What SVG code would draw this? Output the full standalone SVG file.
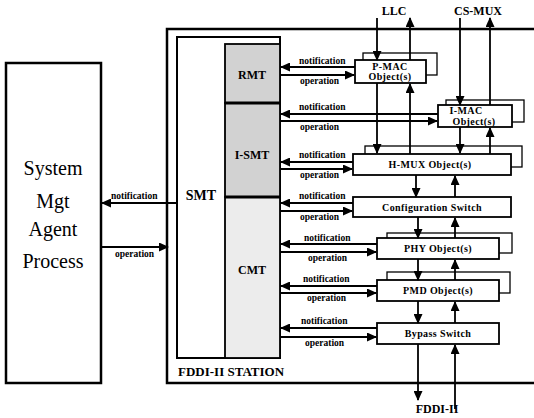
<svg xmlns="http://www.w3.org/2000/svg" width="534" height="418" viewBox="0 0 534 418">
<defs>
<marker id="ah" markerUnits="userSpaceOnUse" markerWidth="10" markerHeight="9" refX="9" refY="4.5" orient="auto">
<path d="M0,0 L10,4.5 L0,9 Z" fill="#000"/>
</marker>
<style>
.box{fill:#fff;stroke:#000;stroke-width:1.8}
.sh{fill:#fff;stroke:#000;stroke-width:1.3}
.ar{stroke:#000;stroke-width:1.8;fill:none;marker-end:url(#ah)}
text{font-family:'Liberation Serif','Times New Roman','DejaVu Serif',serif;fill:#000}
.lab{font-size:9.5px;font-weight:bold}
.nt{font-size:10px;font-weight:bold;text-anchor:middle;letter-spacing:0.4px}
</style>
</defs>
<rect width="534" height="418" fill="#fff"/>

<g id="station">
<path d="M534,29 H167 V383 H534" fill="none" stroke="#000" stroke-width="2.5"/>
<text x="178" y="376" font-size="13" font-weight="bold" font-family="'Liberation Serif', serif">FDDI-II STATION</text>
</g>

<g id="agent">
<rect x="6" y="63" width="95" height="320" fill="#fff" stroke="#000" stroke-width="2.5"/>
<text x="53" y="175" font-size="20" text-anchor="middle" font-family="'Liberation Serif', serif">System</text>
<text x="53" y="208" font-size="20" text-anchor="middle" font-family="'Liberation Serif', serif">Mgt</text>
<text x="53" y="236" font-size="20" text-anchor="middle" font-family="'Liberation Serif', serif">Agent</text>
<text x="53" y="268" font-size="20" text-anchor="middle" font-family="'Liberation Serif', serif">Process</text>
</g>

<g id="smt">
<rect x="177" y="37" width="103" height="321" fill="#fff" stroke="#000" stroke-width="2"/>
<text x="201" y="200" font-size="14" font-weight="bold" text-anchor="middle">SMT</text>
</g>
<g id="rmt">
<rect x="225" y="44" width="55" height="59" fill="#d2d2d2" stroke="#000" stroke-width="1.8"/>
<text x="252" y="79" font-size="12" font-weight="bold" text-anchor="middle">RMT</text>
</g>
<g id="ismt">
<rect x="225" y="103" width="55" height="94" fill="#d2d2d2" stroke="#000" stroke-width="1.8"/>
<text x="252" y="159" font-size="12" font-weight="bold" text-anchor="middle">I-SMT</text>
</g>
<g id="cmt">
<rect x="225" y="197" width="55" height="161" fill="#ececec" stroke="#000" stroke-width="1.8"/>
<text x="252" y="274" font-size="12" font-weight="bold" text-anchor="middle">CMT</text>
</g>
<path d="M225,103 H280 M225,197 H280" stroke="#000" stroke-width="3"/>

<g id="pmac">
<rect class="sh" x="363" y="53" width="74" height="22"/>
<rect class="box" x="355" y="60" width="71" height="23"/>
<text class="nt" x="390" y="70">P-MAC</text>
<text class="nt" x="390" y="80">Object(s)</text>
</g>
<g id="imac">
<rect class="sh" x="446" y="100" width="78" height="22"/>
<rect class="box" x="438" y="105" width="74" height="22"/>
<text class="nt" x="466" y="114">I-MAC</text>
<text class="nt" x="474" y="125">Object(s)</text>
</g>
<g id="hmux">
<rect class="sh" x="365" y="146" width="157" height="21"/>
<rect class="box" x="353" y="154" width="158" height="21"/>
<text class="nt" x="430" y="168">H-MUX Object(s)</text>
</g>
<g id="config">
<rect class="box" x="353" y="197" width="158" height="20"/>
<text class="nt" x="432" y="211">Configuration Switch</text>
</g>
<g id="phy">
<rect class="sh" x="387" y="233" width="125" height="20"/>
<rect class="box" x="377" y="238" width="122" height="21"/>
<text class="nt" x="438" y="252">PHY Object(s)</text>
</g>
<g id="pmd">
<rect class="sh" x="387" y="272" width="123" height="21"/>
<rect class="box" x="377" y="280" width="122" height="21"/>
<text class="nt" x="438" y="294">PMD Object(s)</text>
</g>
<g id="bypass">
<rect class="box" x="377" y="323" width="122" height="21"/>
<text class="nt" x="438" y="337">Bypass Switch</text>
</g>

<g id="ext">
<text x="394" y="15" font-size="12" font-weight="bold" text-anchor="middle">LLC</text>
<text x="478" y="15" font-size="12" font-weight="bold" text-anchor="middle">CS-MUX</text>
<text x="437" y="413" font-size="12" font-weight="bold" text-anchor="middle">FDDI-II</text>
</g>

<g id="connectors">
<line class="ar" x1="177" y1="203" x2="102" y2="203"/>
<line class="ar" x1="101" y1="247" x2="168" y2="247"/>
<text class="lab" x="111" y="199">notification</text>
<text class="lab" x="115" y="257">operation</text>

<line class="ar" x1="355" y1="67" x2="281" y2="67"/>
<line class="ar" x1="280" y1="75" x2="354" y2="75"/>
<text class="lab" x="299" y="64">notification</text>
<text class="lab" x="300" y="84">operation</text>

<line class="ar" x1="438" y1="114" x2="281" y2="114"/>
<line class="ar" x1="280" y1="121" x2="437" y2="121"/>
<text class="lab" x="299" y="110">notification</text>
<text class="lab" x="300" y="130">operation</text>

<line class="ar" x1="353" y1="162" x2="281" y2="162"/>
<line class="ar" x1="280" y1="169" x2="352" y2="169"/>
<text class="lab" x="299" y="158">notification</text>
<text class="lab" x="300" y="178">operation</text>

<line class="ar" x1="353" y1="203" x2="281" y2="203"/>
<line class="ar" x1="280" y1="211" x2="352" y2="211"/>
<text class="lab" x="299" y="199">notification</text>
<text class="lab" x="300" y="220">operation</text>

<line class="ar" x1="377" y1="244" x2="281" y2="244"/>
<line class="ar" x1="280" y1="252" x2="376" y2="252"/>
<text class="lab" x="304" y="241">notification</text>
<text class="lab" x="308" y="261">operation</text>

<line class="ar" x1="377" y1="286" x2="281" y2="286"/>
<line class="ar" x1="280" y1="293" x2="376" y2="293"/>
<text class="lab" x="303" y="282">notification</text>
<text class="lab" x="307" y="301">operation</text>

<line class="ar" x1="377" y1="328" x2="281" y2="328"/>
<line class="ar" x1="280" y1="337" x2="376" y2="337"/>
<text class="lab" x="301" y="324">notification</text>
<text class="lab" x="305" y="346">operation</text>

<line class="ar" x1="377" y1="18" x2="377" y2="60"/>
<line class="ar" x1="410" y1="60" x2="410" y2="18"/>
<line class="ar" x1="377" y1="83" x2="377" y2="153"/>
<line class="ar" x1="410" y1="154" x2="410" y2="84"/>
<line class="ar" x1="460" y1="18" x2="460" y2="105"/>
<line class="ar" x1="490" y1="105" x2="490" y2="18"/>
<line class="ar" x1="460" y1="127" x2="460" y2="153"/>
<line class="ar" x1="490" y1="154" x2="490" y2="128"/>
<line class="ar" x1="416" y1="175" x2="416" y2="197"/>
<line class="ar" x1="455" y1="197" x2="455" y2="176"/>
<line class="ar" x1="418" y1="217" x2="418" y2="238"/>
<line class="ar" x1="455" y1="238" x2="455" y2="218"/>
<line class="ar" x1="418" y1="259" x2="418" y2="280"/>
<line class="ar" x1="455" y1="280" x2="455" y2="260"/>
<line class="ar" x1="418" y1="301" x2="418" y2="323"/>
<line class="ar" x1="455" y1="323" x2="455" y2="302"/>
<line class="ar" x1="418" y1="344" x2="418" y2="400"/>
<line class="ar" x1="455" y1="409" x2="455" y2="345"/>
</g>
</svg>
